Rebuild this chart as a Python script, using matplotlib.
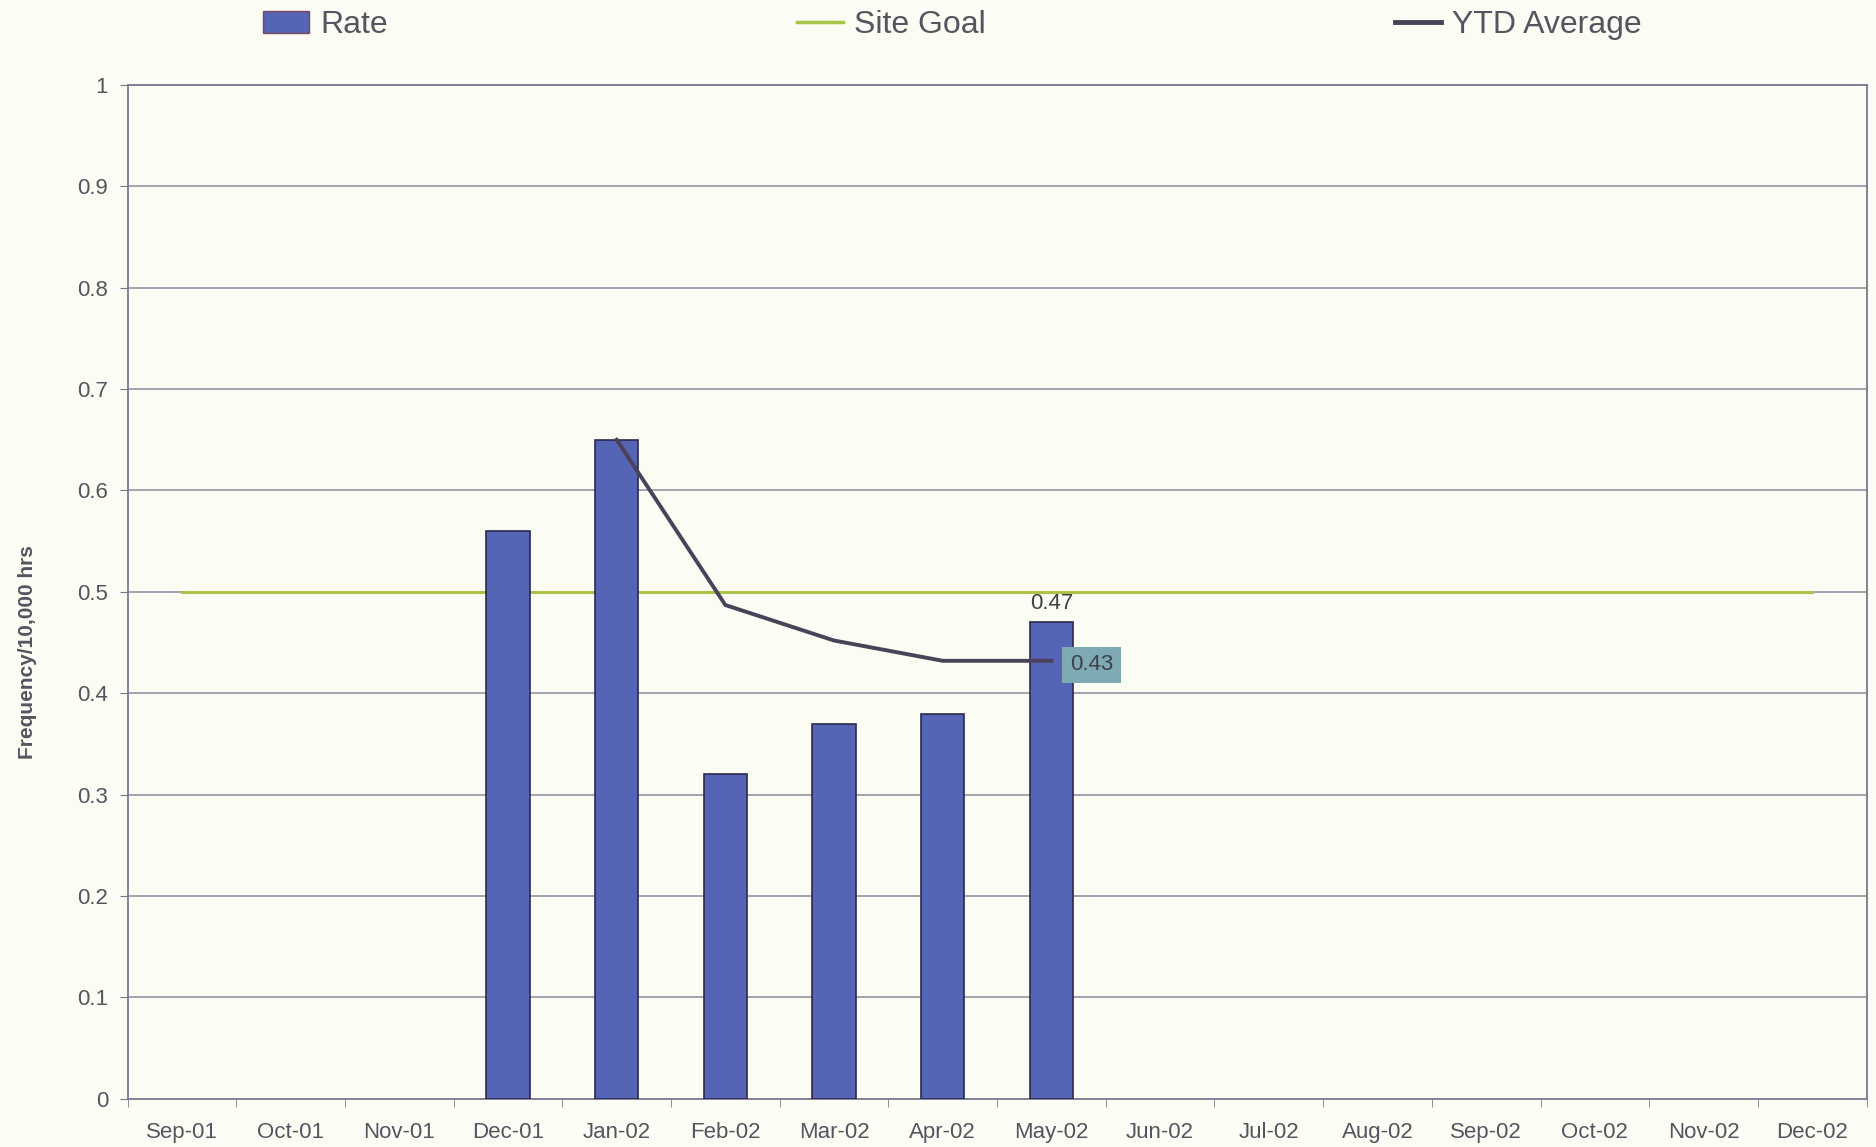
import matplotlib.pyplot as plt
from matplotlib.patches import Patch
from matplotlib.lines import Line2D

plt.rcParams["font.family"] = ["Liberation Sans", "DejaVu Sans"]

# months shown on the category axis
months = ["Sep-01", "Oct-01", "Nov-01", "Dec-01", "Jan-02", "Feb-02", "Mar-02",
          "Apr-02", "May-02", "Jun-02", "Jul-02", "Aug-02", "Sep-02", "Oct-02",
          "Nov-02", "Dec-02"]

# monthly rate (only Dec-01 .. May-02 have data)
rate_months = ["Dec-01", "Jan-02", "Feb-02", "Mar-02", "Apr-02", "May-02"]
rate = [0.56, 0.65, 0.32, 0.37, 0.38, 0.47]

# year-to-date average
ytd_months = ["Jan-02", "Feb-02", "Mar-02", "Apr-02", "May-02"]
ytd_avg = [0.65, 0.487, 0.452, 0.432, 0.432]

site_goal = 0.5

bg = "#fbfcf4"
txt = "#555560"

fig = plt.figure(figsize=(18.76, 11.47), dpi=100, facecolor=bg)
ax = fig.add_axes([0.068, 0.042, 0.927, 0.884], facecolor=bg)

pos = {m: i for i, m in enumerate(months)}
rx = [pos[m] for m in rate_months]
yx = [pos[m] for m in ytd_months]

# gridlines
for v in [i / 10 for i in range(1, 11)]:
    ax.axhline(v, color="#8c8a9c", lw=1.1, zorder=1)

ax.bar(rx, rate, width=0.4, color="#5564b4", edgecolor="#2c2a4c", lw=1.2, zorder=3)
ax.plot([0, len(months) - 1], [site_goal, site_goal], color="#a9c448", lw=2.2, zorder=2)
ax.plot(yx, ytd_avg, color="#4a4258", lw=2.8, zorder=4)

# data labels
ax.text(rx[-1], rate[-1] + 0.008, f"{rate[-1]:.2f}", ha="center", va="bottom",
        fontsize=16, color="#404048", zorder=5)
ax.text(yx[-1] + 0.17, ytd_avg[-1] - 0.004, f"{ytd_avg[-1]:.2f}", ha="left", va="center",
        fontsize=16, color="#404048", zorder=5,
        bbox=dict(boxstyle="square,pad=0.35", facecolor="#7eaab4", edgecolor="none"))

ax.set_xlim(-0.5, len(months) - 0.5)
ax.set_ylim(0, 1)
ax.set_yticks([i / 10 for i in range(11)])
ax.set_yticklabels(["0", "0.1", "0.2", "0.3", "0.4", "0.5", "0.6", "0.7", "0.8", "0.9", "1"])
ax.set_xticks(range(len(months)))
ax.set_xticklabels(months)
ax.set_xticks([i - 0.5 for i in range(len(months) + 1)], minor=True)
ax.tick_params(axis="x", which="major", length=0, labelsize=16, colors=txt, pad=17)
ax.tick_params(axis="x", which="minor", length=6, color="#7a7890", direction="out")
ax.tick_params(axis="y", length=6, color="#7a7890", labelsize=16, colors=txt, pad=8)

for s in ax.spines.values():
    s.set_color("#7a7890")
    s.set_linewidth(1.3)

ax.set_ylabel("Frequency/10,000 hrs", fontsize=15, fontweight="bold", color=txt)
ax.yaxis.set_label_coords(-0.052, 0.441)

handles = [
    Patch(facecolor="#5564b4", edgecolor="#7a4a5a", label="Rate"),
    Line2D([], [], color="#a9c448", lw=2.5, label="Site Goal"),
    Line2D([], [], color="#4a4258", lw=3.5, label="YTD Average"),
]
leg = fig.legend(handles=handles, loc="upper left", bbox_to_anchor=(0.140, 0.991), ncol=3,
                 frameon=False, fontsize=23, handlelength=1.45, handletextpad=0.35,
                 columnspacing=12.8, borderpad=0, borderaxespad=0)
for t in leg.get_texts():
    t.set_color(txt)

fig.savefig("out.png", dpi=100, facecolor=bg)
